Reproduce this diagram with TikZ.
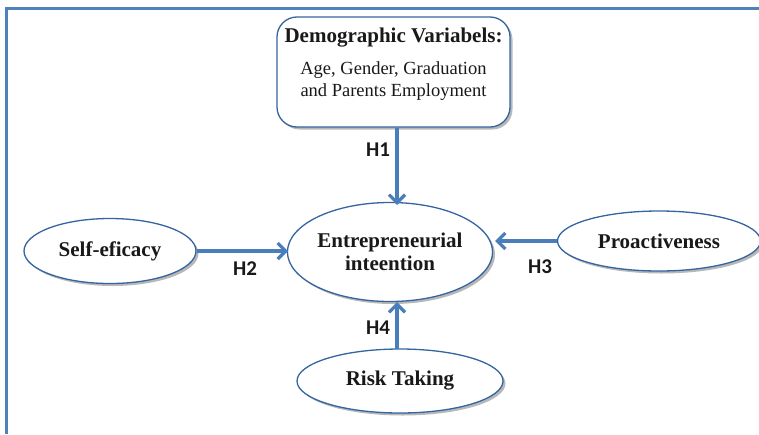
\documentclass[tikz,border=0pt]{standalone}
\usepackage{fontspec}
\setmainfont{Liberation Serif}
\newfontfamily\labfont{Carlito}
\usetikzlibrary{shapes.geometric,arrows.meta,shadows}
\definecolor{framec}{HTML}{4F81BD}
\definecolor{edgec}{HTML}{3465A0}
\definecolor{arrc}{HTML}{4A7EBB}
\tikzset{
  oval/.style={ellipse, draw=edgec, line width=1.3pt, fill=white, inner sep=0pt,
    drop shadow={shadow xshift=2.5pt, shadow yshift=-2.5pt, fill=black!35, opacity=0.8},
    font=\fontsize{21}{23}\selectfont\bfseries, text=black!90, align=center},
  rbox/.style={rectangle, rounded corners=20pt, draw=edgec, line width=1.3pt, fill=white,
    drop shadow={shadow xshift=2.5pt, shadow yshift=-2.5pt, fill=black!35, opacity=0.8}},
  conn/.style={draw=arrc, line width=4pt, -{Straight Barb[length=8pt,width=16pt,line width=3.2pt]}},
  hlab/.style={font=\labfont\fontsize{21}{23}\selectfont\bfseries, text=black!90},
}
\begin{document}
\begin{tikzpicture}[x=1pt,y=-1pt]
\useasboundingbox (0,0) rectangle (759,434);
% frame
\coordinate (fa) at (6,434);
\coordinate (fb) at (6,8);
\coordinate (fc) at (759,8);
\draw[framec, line width=3pt] (fa) -- (fb) -- (fc);
% demographic box
\node[rbox, minimum width=233pt, minimum height=110pt] (dem) at (393.5,72) {};
\node[font=\fontsize{21}{23}\selectfont\bfseries, text=black!90] (demt) at (393.5,38) {Demographic Variabels:};
\node[font=\fontsize{18.5}{22}\selectfont, text=black!90, align=center] (demv) at (393.5,81) {Age, Gender, Graduation\\and Parents Employment};
% ellipses
\node[oval, minimum width=205pt, minimum height=99pt] (ei) at (390,252) {Entrepreneurial\\inteention};
\node[oval, minimum width=172pt, minimum height=65pt] (se) at (110,251) {Self-eficacy};
\node[oval, minimum width=203pt, minimum height=60pt] (pr) at (659,241) {Proactiveness};
\node[oval, minimum width=206pt, minimum height=64pt] (rt) at (400,381) {Risk Taking};
% connectors
\coordinate (t1) at (397,205);
\coordinate (t2) at (288,251);
\coordinate (t3) at (495,241);
\coordinate (s4) at (397,349);
\coordinate (t4) at (397,302);
\draw[conn] (dem.south -| t1) -- (t1);
\draw[conn] (se.east) -- (t2);
\draw[conn] (pr.west) -- (t3);
\draw[conn] (s4) -- (t4);
% labels
\node[hlab] (h1) at (378,150) {H1};
\node[hlab] (h2) at (245,269) {H2};
\node[hlab] (h3) at (540,267) {H3};
\node[hlab] (h4) at (378,328) {H4};
\end{tikzpicture}
\end{document}
